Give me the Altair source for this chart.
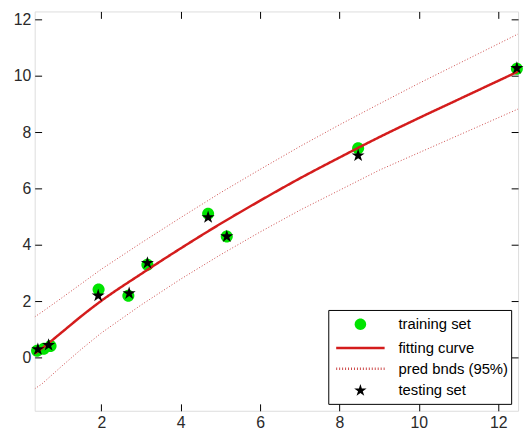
import altair as alt
import pandas as pd

# ---- data ----
train_x = [0.38, 0.55, 0.72, 1.93, 2.68, 3.16, 4.69, 5.16, 8.47, 12.47]
train_y = [0.25, 0.32, 0.42, 2.42, 2.20, 3.30, 5.11, 4.30, 7.43, 10.25]

test_x = [0.40, 0.67, 1.92, 2.70, 3.16, 4.69, 5.16, 8.47, 12.47]
test_y = [0.30, 0.45, 2.20, 2.28, 3.36, 4.98, 4.30, 7.17, 10.27]

curve_x = [0.32, 0.5, 1.0, 1.5, 2.0, 3.0, 4.0, 5.0, 6.0, 7.0, 8.0, 9.0, 10.0, 11.0, 12.0, 12.5]
fit_y = [0.15, 0.33, 0.90, 1.48, 2.02, 2.97, 3.88, 4.75, 5.57, 6.36, 7.10, 7.82, 8.50, 9.16, 9.82, 10.15]
upper_y = [1.45, 1.62, 2.12, 2.63, 3.14, 4.07, 4.97, 5.85, 6.68, 7.49, 8.26, 9.00, 9.73, 10.43, 11.13, 11.48]
lower_y = [-1.10, -0.93, -0.30, 0.31, 0.88, 1.87, 2.79, 3.65, 4.46, 5.23, 5.94, 6.65, 7.27, 7.89, 8.51, 8.82]

series_names = ["training set", "fitting curve", "pred bnds (95%)", "testing set"]
fill_colors = ["#00e400", "transparent", "transparent", "#000000"]
stroke_colors = ["transparent", "#d41c1c", "#cc4a4a", "transparent"]

x_ticks = [2, 4, 6, 8, 10, 12]
y_ticks = [0, 2, 4, 6, 8, 10, 12]

CIRCLE = "M0.58,0A0.58,0.58,0,1,1,-0.58,0A0.58,0.58,0,1,1,0.58,0Z"
STAR = ("M0,-0.66L0.148,-0.204L0.628,-0.204L0.240,0.078L0.388,0.534L0,0.252"
        "L-0.388,0.534L-0.240,0.078L-0.628,-0.204L-0.148,-0.204Z")
LINE = "M-2.45,0H2.45"
shapes = [CIRCLE, LINE, LINE, STAR]
dashes = [[1, 0], [1, 0], [1, 2], [1, 0]]

FONT = "Liberation Sans"

train_df = pd.DataFrame({"x": train_x, "y": train_y, "series": series_names[0]})
test_df = pd.DataFrame({"x": test_x, "y": test_y, "series": series_names[3]})
fit_df = pd.DataFrame({"x": curve_x, "y": fit_y, "series": series_names[1]})
bnd_df = pd.concat([
    pd.DataFrame({"x": curve_x, "y": upper_y, "which": "upper", "series": series_names[2]}),
    pd.DataFrame({"x": curve_x, "y": lower_y, "which": "lower", "series": series_names[2]}),
])

xscale = alt.Scale(domain=[0.32, 12.5], nice=False, zero=False)
yscale = alt.Scale(domain=[-1.88, 12.28], nice=False, zero=False)


def ax(orient, values, labels=True):
    return alt.Axis(orient=orient, values=values, offset=-7, tickSize=7,
                    domain=False, grid=False, labels=labels, title=None,
                    tickColor="black", tickWidth=1, labelFont=FONT,
                    labelFontSize=16, labelColor="#2a2a2a", labelPadding=4)


legend = alt.Legend(
    title=None, orient="bottom-right", offset=7,
    strokeColor="black", fillColor="white", padding=3,
    symbolSize=400, symbolOffset=18, labelOffset=27,
    symbolStrokeWidth=2.5, symbolOpacity=1,
    labelFont=FONT, labelFontSize=15, labelColor="black", rowPadding=1,
)

fill = alt.Fill("series:N", scale=alt.Scale(domain=series_names, range=fill_colors), legend=legend)
stroke = alt.Stroke("series:N", scale=alt.Scale(domain=series_names, range=stroke_colors), legend=legend)
shape = alt.Shape("series:N", scale=alt.Scale(domain=series_names, range=shapes), legend=legend)
dash = alt.StrokeDash("series:N", scale=alt.Scale(domain=series_names, range=dashes), legend=legend)

train = alt.Chart(train_df).mark_point(filled=True, size=441, opacity=1, strokeWidth=0).encode(
    x=alt.X("x:Q", scale=xscale, axis=None),
    y=alt.Y("y:Q", scale=yscale, axis=None),
    fill=fill,
    shape=shape,
)

bounds = alt.Chart(bnd_df).mark_line(strokeWidth=1, clip=True).encode(
    x=alt.X("x:Q", scale=xscale, axis=ax("top", x_ticks, labels=False)),
    y=alt.Y("y:Q", scale=yscale, axis=ax("right", y_ticks, labels=False)),
    detail="which:N",
    stroke=stroke,
    strokeDash=dash,
)

fit = alt.Chart(fit_df).mark_line(strokeWidth=2.5, interpolate="monotone", clip=True).encode(
    x=alt.X("x:Q", scale=xscale, axis=ax("bottom", x_ticks)),
    y=alt.Y("y:Q", scale=yscale, axis=ax("left", y_ticks)),
    stroke=stroke,
    strokeDash=dash,
)

test = alt.Chart(test_df).mark_point(filled=True, size=441, opacity=1, strokeWidth=0).encode(
    x=alt.X("x:Q", scale=xscale, axis=None),
    y=alt.Y("y:Q", scale=yscale, axis=None),
    fill=fill,
    shape=shape,
)

chart = (
    alt.layer(train, bounds, fit, test)
    .resolve_axis(x="independent", y="independent")
    .properties(width=489, height=404,
                padding={"left": 5, "top": 0, "right": 0, "bottom": 0})
    .configure_view(stroke="black", strokeWidth=1)
    .configure(background="white")
)

chart.save("out.html", embed_options={"renderer": "svg", "actions": False})
